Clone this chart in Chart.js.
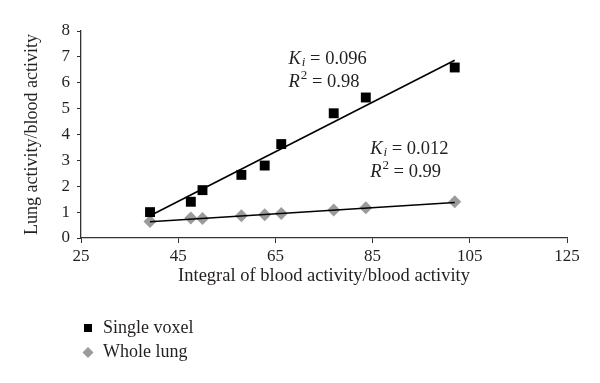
<!DOCTYPE html>
<html>
<head>
<meta charset="utf-8">
<script src="https://cdn.jsdelivr.net/npm/chart.js@4.4.1/dist/chart.umd.min.js"></script>
<style>
	html, body { margin: 0; padding: 0; background: #ffffff; }
	#box { width: 600px; height: 383px; position: relative; }
</style>
</head>
<body>
<div id="box"><canvas id="kiChart"></canvas></div>
<script>
// values
const blockIntegral = [39.2, 47.6, 50.0, 58.0, 62.8, 66.2, 77.0, 83.6, 101.9];
const singleVoxel = [1.0, 1.4, 1.85, 2.44, 2.8, 3.63, 4.82, 5.43, 6.59];
const wholeLung = [0.64, 0.77, 0.75, 0.86, 0.9, 0.95, 1.08, 1.17, 1.4];

// fitted lines (end points)
const fitX = [39.2, 101.9];
const voxelFit = [0.86, 6.87];
const lungFit = [0.63, 1.37];

const xTicks = [25, 45, 65, 85, 105, 125];
const yTicks = [0, 1, 2, 3, 4, 5, 6, 7, 8];

const ink = "#231f20";
const serif = "'Liberation Serif', 'DejaVu Serif', serif";

function toPoints(xs, ys) {
	return xs.map((x, i) => ({ x: x, y: ys[i] }));
}

// draws the Ki / R^2 text next to each line
const fitText = {
	id: "fitText",
	afterDatasetsDraw(chart, args, opts) {
		const ctx = chart.ctx;
		const sx = chart.scales.x;
		const sy = chart.scales.y;
		ctx.save();
		ctx.fillStyle = ink;
		ctx.textBaseline = "middle";
		ctx.textAlign = "left";
		opts.items.forEach((item) => {
			let x = sx.getPixelForValue(item.x);
			let y = sy.getPixelForValue(item.y);
			// K_i line
			ctx.font = "italic 18.5px " + serif;
			ctx.fillText("K", x, y);
			x += ctx.measureText("K").width;
			ctx.font = "italic 13px " + serif;
			ctx.fillText("i", x + 1, y + 4);
			x += ctx.measureText("i").width + 1;
			ctx.font = "18.5px " + serif;
			ctx.fillText(" = " + item.ki, x, y);
			// R^2 line
			x = sx.getPixelForValue(item.x);
			y += 23;
			ctx.font = "italic 18.5px " + serif;
			ctx.fillText("R", x, y);
			x += ctx.measureText("R").width;
			ctx.font = "13px " + serif;
			ctx.fillText("2", x + 1, y - 6);
			x += ctx.measureText("2").width + 1;
			ctx.font = "18.5px " + serif;
			ctx.fillText(" = " + item.r2, x, y);
		});
		ctx.restore();
	},
};

// legend stacked under the axis title
const stackLegend = {
	id: "stackLegend",
	afterDraw(chart, args, opts) {
		const ctx = chart.ctx;
		ctx.save();
		ctx.textBaseline = "middle";
		ctx.textAlign = "left";
		ctx.font = "18px " + serif;
		let y = opts.top;
		chart.data.datasets
			.filter((ds) => ds.label)
			.forEach((ds) => {
				const mx = opts.left;
				ctx.fillStyle = ds.backgroundColor;
				ctx.beginPath();
				if (ds.pointStyle === "rect") {
					ctx.rect(mx - 4, y - 4, 8, 8);
				} else {
					ctx.moveTo(mx, y - 5.5);
					ctx.lineTo(mx + 5.5, y);
					ctx.lineTo(mx, y + 5.5);
					ctx.lineTo(mx - 5.5, y);
					ctx.closePath();
				}
				ctx.fill();
				ctx.fillStyle = ink;
				ctx.fillText(ds.label, mx + 15, y);
				y += 24.5;
			});
		ctx.restore();
	},
};

const ctx = document.getElementById("kiChart").getContext("2d");
new Chart(ctx, {
	type: "scatter",
	data: {
		datasets: [
			{
				label: "Single voxel",
				data: toPoints(blockIntegral, singleVoxel),
				pointStyle: "rect",
				pointRadius: 7,
				backgroundColor: "#000000",
				borderWidth: 0,
				order: 2,
			},
			{
				label: "Whole lung",
				data: toPoints(blockIntegral, wholeLung),
				pointStyle: "rectRot",
				pointRadius: 6.5,
				backgroundColor: "#9b9b9b",
				borderWidth: 0,
				order: 2,
			},
			{
				data: toPoints(fitX, voxelFit),
				showLine: true,
				pointRadius: 0,
				borderColor: "#000000",
				borderWidth: 1.6,
				order: 1,
			},
			{
				data: toPoints(fitX, lungFit),
				showLine: true,
				pointRadius: 0,
				borderColor: "#000000",
				borderWidth: 1.6,
				order: 1,
			},
		],
	},
	options: {
		responsive: true,
		maintainAspectRatio: false,
		animation: false,
		events: [],
		layout: { padding: { left: 0, right: 33, top: 31, bottom: 0 } },
		plugins: {
			legend: { display: false },
			tooltip: { enabled: false },
			fitText: {
				items: [
					{ x: 67.7, y: 6.93, ki: "0.096", r2: "0.98" },
					{ x: 84.5, y: 3.44, ki: "0.012", r2: "0.99" },
				],
			},
			stackLegend: { left: 88, top: 328 },
		},
		scales: {
			x: {
				type: "linear",
				min: 25,
				max: 125,
				afterBuildTicks: (scale) => {
					scale.ticks = xTicks.map((v) => ({ value: v }));
				},
				afterFit: (scale) => {
					scale.height = 145;
				},
				border: { display: true, color: "#333333", width: 1.3 },
				grid: { drawOnChartArea: false, drawTicks: true, tickLength: 5, color: "#333333" },
				ticks: { color: ink, font: { family: serif, size: 17 }, padding: 3 },
				title: {
					display: true,
					text: "Integral of blood activity/blood activity",
					color: ink,
					font: { family: serif, size: 18.5 },
					padding: { top: 0, bottom: 96 },
				},
			},
			y: {
				type: "linear",
				min: 0,
				max: 8,
				afterBuildTicks: (scale) => {
					scale.ticks = yTicks.map((v) => ({ value: v }));
				},
				afterFit: (scale) => {
					scale.width = 81;
				},
				border: { display: true, color: "#333333", width: 1.3 },
				grid: { drawOnChartArea: false, drawTicks: true, tickLength: 4, color: "#333333" },
				ticks: { color: ink, font: { family: serif, size: 17 }, padding: 7 },
				title: {
					display: true,
					text: "Lung activity/blood activity",
					color: ink,
					font: { family: serif, size: 18 },
					padding: { top: 21, bottom: 0 },
				},
			},
		},
	},
	plugins: [fitText, stackLegend],
});
</script>
</body>
</html>
